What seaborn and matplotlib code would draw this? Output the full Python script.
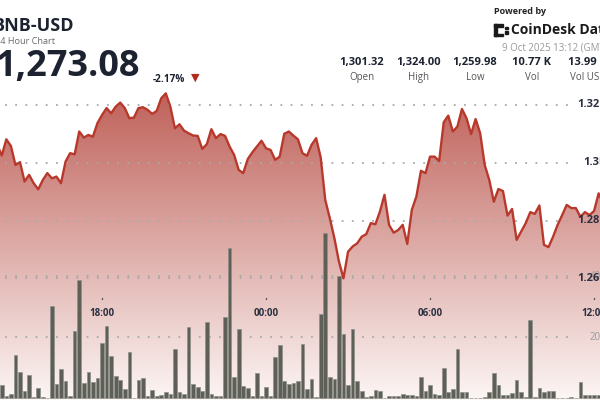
import numpy as np
import pandas as pd
import matplotlib
matplotlib.use("Agg")
import matplotlib.pyplot as plt
from matplotlib.colors import LinearSegmentedColormap
from matplotlib.patches import Polygon, Rectangle
import seaborn as sns

# 10 minute candles, 8 Oct 14:10 -> 9 Oct 12:20 (the visible part of the 24h window)
times = pd.date_range("2025-10-08 14:10", periods=134, freq="10min")

price = [
    1306.2, 1302.5, 1308.1, 1305.8, 1299.2, 1300.2, 1293.5, 1295.8, 1292.9, 1290.8,
    1294.0, 1296.4, 1294.6, 1295.2, 1292.9, 1300.4, 1303.3, 1302.9, 1310.8, 1308.7,
    1309.6, 1309.0, 1313.7, 1316.5, 1318.9, 1317.1, 1319.4, 1320.8, 1318.9, 1315.4,
    1315.6, 1318.9, 1319.2, 1318.3, 1316.9, 1317.9, 1322.3, 1324.0, 1319.4, 1311.9,
    1313.3, 1311.1, 1310.2, 1309.4, 1309.3, 1304.8, 1306.4, 1311.6, 1308.5, 1309.9,
    1309.3, 1305.6, 1302.7, 1297.5, 1296.4, 1301.3, 1303.6, 1305.6, 1307.6, 1305.0,
    1304.4, 1301.0, 1302.1, 1310.0, 1310.8, 1309.4, 1308.1, 1303.3, 1302.4, 1306.2,
    1308.5, 1301.8, 1287.1, 1280.8, 1273.9, 1265.8, 1260.0, 1269.2, 1271.0, 1272.1,
    1274.4, 1275.3, 1279.1, 1278.7, 1283.1, 1288.9, 1278.5, 1275.8, 1276.7, 1278.5,
    1271.9, 1283.7, 1288.3, 1297.2, 1296.4, 1302.1, 1302.1, 1300.6, 1314.0, 1316.3,
    1310.8, 1312.5, 1318.6, 1315.4, 1309.9, 1315.1, 1310.2, 1299.2, 1294.0, 1286.5,
    1290.9, 1290.2, 1281.7, 1284.0, 1273.3, 1276.2, 1279.1, 1282.9, 1282.3, 1285.2,
    1271.6, 1270.8, 1274.4, 1278.5, 1281.9, 1285.4, 1284.3, 1284.3, 1281.3, 1282.9,
    1281.9, 1283.3, 1289.4, 1286.0,
]

volume = [
    5.9, 4.5, 0.9, 1.5, 14.3, 8.5, 2.3, 7.6, 0.4, 3.4,
    0.4, 0.1, 30.4, 4.8, 9.6, 5.6, 0.9, 22.2, 38.9, 4.9,
    8.5, 5.2, 6.6, 18.0, 23.8, 13.8, 7.3, 6.1, 3.1, 15.2,
    0.1, 6.0, 6.8, 0.9, 2.6, 0.9, 1.2, 2.0, 1.3, 16.1,
    2.2, 1.4, 23.3, 4.6, 3.7, 2.5, 25.1, 1.4, 0.7, 0.7,
    26.6, 49.4, 7.1, 22.7, 4.1, 3.3, 0.9, 8.3, 0.7, 3.6,
    0.9, 13.4, 17.4, 5.7, 4.6, 5.0, 5.7, 17.8, 3.0, 6.3,
    0.3, 27.7, 54.2, 7.1, 6.4, 40.2, 21.1, 4.5, 22.7, 5.8,
    2.3, 0.5, 0.7, 2.7, 2.4, 0.1, 0.9, 0.9, 0.9, 1.4,
    1.2, 1.2, 0.9, 6.9, 2.4, 4.5, 1.4, 1.0, 9.8, 2.0,
    3.1, 16.1, 2.0, 1.9, 0.1, 0.1, 0.1, 0.3, 1.9, 8.4,
    4.4, 1.2, 1.2, 1.6, 6.1, 2.0, 0.3, 25.6, 0.5, 3.5,
    2.2, 2.3, 2.3, 0.0, 0.1, 0.2, 0.3, 0.1, 5.3, 1.1,
    1.1, 1.1, 1.1, 11.0,
]

price_ticks = [1320, 1300, 1280, 1260]
price_labels = ["1.32K", "1.3K", "1.28K", "1.26K"]
vol_ticks = [20, 40]
vol_labels = ["20", "40"]
time_ticks = ["2025-10-08 18:00", "2025-10-09 00:00", "2025-10-09 06:00", "2025-10-09 12:00"]
time_labels = ["18:00", "00:00", "06:00", "12:00"]
stat_values = ["1,301.32", "1,324.00", "1,259.98", "10.77 K", "13.99 M"]
stat_names = ["Open", "High", "Low", "Vol", "Vol USD"]

sns.set_theme(style="white")
plt.rcParams["font.family"] = ["Open Sans", "DejaVu Sans"]

df = pd.DataFrame({"time": times, "price": price, "volume": volume})
df["pos"] = np.arange(len(df))

W, H = 600, 400
DARK = "#1c2230"
fig = plt.figure(figsize=(6, 4), dpi=100)
fig.patch.set_facecolor("white")


def fx(x):
    return x / W


def fy(y):
    return 1 - y / H


x_lim = (0.61, 132.3)
p_lim = (1217.9, 1356.3)
v_lim = (-0.56, 130.6)

ax_bg = fig.add_axes([0, 0, 1, 1])
ax_vol = fig.add_axes([0, 0, 1, 1])
ax_line = fig.add_axes([0, 0, 1, 1])

# gradient area under the price line
cmap = LinearSegmentedColormap.from_list("fade", ["#fcf6f5", "#bd5c54"])
grad = np.linspace(0, 1, 256).reshape(-1, 1)
im = ax_bg.imshow(grad, extent=[x_lim[0] - 2, x_lim[1] + 2, p_lim[0], 1328],
                  origin="lower", aspect="auto", cmap=cmap, zorder=1)
xs = np.r_[df["pos"].iloc[0], df["pos"], df["pos"].iloc[-1]]
ys = np.r_[p_lim[0], df["price"], p_lim[0]]
poly = Polygon(np.column_stack([xs, ys]), closed=True, facecolor="none",
               edgecolor="none", transform=ax_bg.transData)
ax_bg.add_patch(poly)
im.set_clip_path(poly)

dots = (0, (1.0, 4.65))
for p in price_ticks:
    ax_bg.axhline(p, xmin=0.008, xmax=0.96, color="#a9a9a9", lw=1.3,
                  linestyle=dots, zorder=2)

# volume bars
for v in vol_ticks:
    ax_vol.axhline(v, xmin=0.008, xmax=0.96, color="#a9a9a9", lw=1.3,
                   linestyle=dots, zorder=0.5)
sns.barplot(x=df["pos"], y=df["volume"], native_scale=True, errorbar=None,
            width=0.8, color="#5e6058", saturation=1, edgecolor="#8f908a",
            linewidth=0.5, ax=ax_vol)

# price line
sns.lineplot(x=df["pos"], y=df["price"], ax=ax_line, color="#b8392c", linewidth=1.7)

for a in (ax_bg, ax_vol, ax_line):
    a.set_xlim(x_lim)
    a.axis("off")
ax_bg.set_ylim(p_lim)
ax_line.set_ylim(p_lim)
ax_vol.set_ylim(v_lim)

# axis labels drawn as text
for v, lbl in zip(vol_ticks, vol_labels):
    ax_vol.text(590 / W, v, lbl, transform=ax_vol.get_yaxis_transform(),
                ha="left", va="center", fontsize=7, color="#9a9a9a")
for p, lbl in zip(price_ticks, price_labels):
    ax_line.text(607 / W, p, lbl, transform=ax_line.get_yaxis_transform(),
                 ha="right", va="center", fontsize=8, fontweight="bold", color="#2a3040")

tpos = [df.index[df["time"] == pd.Timestamp(t)][0] for t in time_ticks]
xt = ax_line.get_xaxis_transform()
for p, lbl in zip(tpos, time_labels):
    ax_line.plot([p, p], [fy(297.5), fy(299)], color="#555555", lw=1, transform=xt)
    ax_line.text(p, fy(313), lbl, transform=xt, ha="center", va="center",
                 fontsize=7, fontweight="bold", color="#2a3040")

# header
fig.text(fx(74), fy(26), "BNB-USD", ha="right", va="center", fontsize=13,
         fontweight="bold", color=DARK)
fig.text(fx(55), fy(41), "24 Hour Chart", ha="right", va="center", fontsize=6.6,
         color="#6b6b6b")
fig.text(fx(140), fy(67), "1,273.08", ha="right", va="center", fontsize=26,
         fontweight="bold", color=DARK)
fig.text(fx(153), fy(79), "-2.17%", ha="left", va="center", fontsize=7.2,
         fontweight="bold", color=DARK)
fig.text(fx(195), fy(78), "\u25bc", ha="center", va="center", fontsize=8,
         color="#b5281e", family=["DejaVu Sans"])

fig.text(fx(494), fy(11), "Powered by", ha="left", va="center", fontsize=6.5,
         fontweight="bold", color="#222222")
logo = [(494, 24, 3, 12), (494, 24, 9, 2.5), (494, 33.5, 9, 2.5),
        (505, 26.5, 3, 2.5), (505, 31, 3, 2.5)]
for x, y, w, h in logo:
    fig.add_artist(Rectangle((fx(x), fy(y + h)), w / W, h / H, color="#1a1a1a",
                             transform=fig.transFigure))
fig.text(fx(511), fy(30), "CoinDesk Data", ha="left", va="center", fontsize=10,
         fontweight="bold", color="#1a1a1a")
fig.text(fx(502), fy(47.5), "9 Oct 2025 13:12 (GMT)", ha="left", va="center",
         fontsize=7, color="#9a9a9a")

stat_x = [362, 418.5, 475, 532, 588.5]
for x, val, name in zip(stat_x, stat_values, stat_names):
    fig.text(fx(x), fy(62.5), val, ha="center", va="center", fontsize=8,
             fontweight="bold", color=DARK)
    fig.text(fx(x), fy(77.5), name, ha="center", va="center", fontsize=7,
             color="#555555")

fig.savefig("out.png", dpi=100)
